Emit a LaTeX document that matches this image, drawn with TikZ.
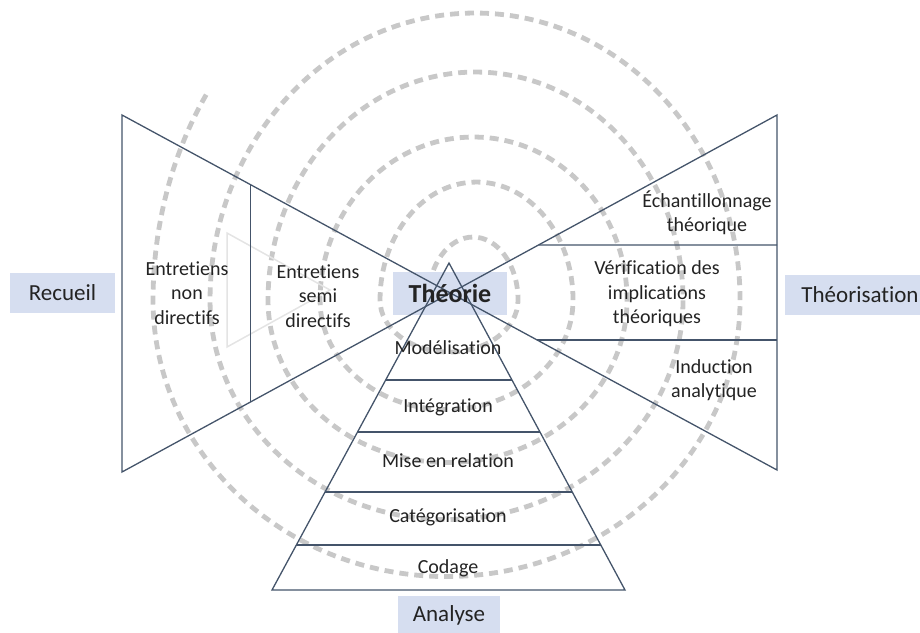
\documentclass[tikz,border=0pt]{standalone}
\usepackage{fontspec}
\setmainfont{Carlito}[Ligatures=NoCommon]
\usetikzlibrary{calc}
\definecolor{edgeblue}{RGB}{68,84,106}
\definecolor{boxblue}{RGB}{214,222,240}
\definecolor{spiralgray}{RGB}{200,200,200}
\definecolor{ghostgray}{RGB}{228,228,228}
\definecolor{inkdark}{RGB}{35,35,35}

\begin{document}
\begin{tikzpicture}[x=1pt, y=-1pt,
    edge/.style={draw=edgeblue, line width=1.3pt},
    spiral/.style={draw=spiralgray, line width=4.8pt, dash pattern=on 9pt off 6pt},
    lblbox/.style={fill=boxblue, text=inkdark, inner sep=0pt, font=\fontsize{23}{27}\selectfont},
    cell/.style={text=inkdark, align=center, font=\fontsize{20}{24.5}\selectfont}]
  \useasboundingbox (0,0) rectangle (920,632);

  % spiral, from the free end inwards
  \draw[spiral] (206.2,94.7) arc[start angle=215, end angle=180, x radius=294, y radius=358]
    arc[start angle=180, end angle=0, x radius=293.5, y radius=276.5]
    arc[start angle=0, end angle=-180, x radius=265, y radius=287]
    arc[start angle=180, end angle=0, x radius=236.5, y radius=219.5]
    arc[start angle=0, end angle=-180, x radius=207.5, y radius=228]
    arc[start angle=180, end angle=0, x radius=179.5, y radius=162.5]
    arc[start angle=0, end angle=-180, x radius=153.5, y radius=163]
    arc[start angle=180, end angle=0, x radius=126.5, y radius=109.5]
    arc[start angle=0, end angle=-180, x radius=96.5, y radius=118]
    arc[start angle=180, end angle=0, x radius=69, y radius=52]
    arc[start angle=0, end angle=-180, x radius=45, y radius=63];

  % faint triangle
  \coordinate (g1) at (227,233);
  \coordinate (g2) at (330,290);
  \coordinate (g3) at (227,347);
  \draw[ghostgray, line width=1.5pt] (g1) -- (g2) -- (g3) -- cycle;

  \node[lblbox, minimum width=114, minimum height=43] (theobox) at (450,293.5) {};

  % bow tie
  \coordinate (tl) at (122,115);
  \coordinate (bl) at (122,472);
  \coordinate (tr) at (777,115);
  \coordinate (br) at (777,470);
  \draw[edge] (tl) -- (br) -- (tr) -- (bl) -- cycle;
  \draw[edge] ($(tl)!0.196!(br)$) -- ($(bl)!0.196!(tr)$);
  \draw[edge] ($(bl)!0.636!(tr)$) -- ($(tr)!0.366!(br)$);
  \draw[edge] ($(tl)!0.634!(br)$) -- ($(tr)!0.634!(br)$);

  % pyramid
  \coordinate (apex) at (449,263);
  \coordinate (pl) at (272,590);
  \coordinate (pr) at (625,590);
  \draw[edge] (apex) -- (pl) -- (pr) -- cycle;
  \foreach \f in {0.358,0.517,0.700,0.862}
    \draw[edge] ($(apex)!\f!(pl)$) -- ($(apex)!\f!(pr)$);

  \node[text=inkdark, font=\bfseries\fontsize{26}{30}\selectfont] (theorie) at (theobox) {Théorie};
  \node[lblbox, minimum width=105, minimum height=40] (recueil) at (62.5,293) {Recueil};
  \node[lblbox, minimum width=150, minimum height=40] (theorisation) at (860,295) {Théorisation};
  \node[lblbox, minimum width=102, minimum height=38] (analyse) at (449,615) {Analyse};

  \node[cell] (nondir) at (187,293) {Entretiens\\non\\directifs};
  \node[cell] (semidir) at (318,296) {Entretiens\\semi\\directifs};
  \node[cell] (echant) at (707,213) {Échantillonnage\\théorique};
  \node[cell] (verif) at (657,294) {Vérification des\\implications\\théoriques};
  \node[cell] (induc) at (714,380) {Induction\\analytique};
  \node[cell] (modl) at (448,348) {Modélisation};
  \node[cell] (integ) at (448,407) {Intégration};
  \node[cell] (miser) at (448,461) {Mise en relation};
  \node[cell] (categ) at (448,517) {Catégorisation};
  \node[cell] (codage) at (448,568) {Codage};
\end{tikzpicture}
\end{document}
